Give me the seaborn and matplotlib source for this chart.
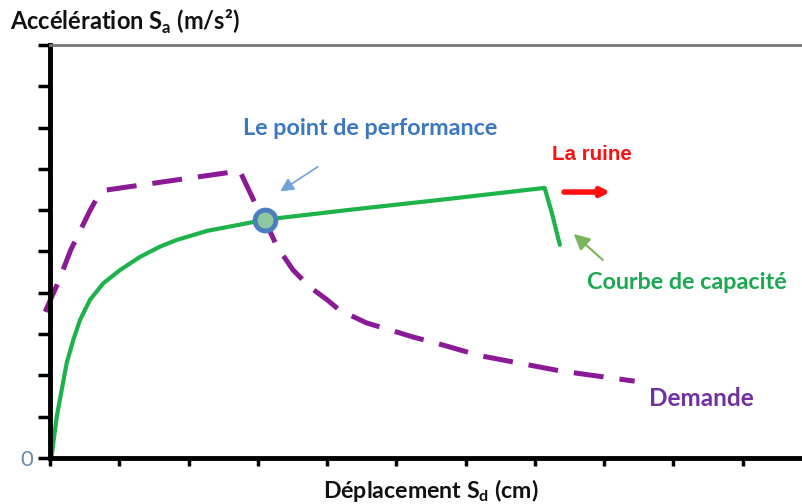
import numpy as np
import pandas as pd
import matplotlib
matplotlib.use("Agg")
import matplotlib.pyplot as plt
import seaborn as sns

# capacity curve (green)
cap_x = [0, 0.025, 0.097, 0.169, 0.241, 0.336, 0.433, 0.577, 0.769, 1.01, 1.30, 1.59,
         1.83, 2.27, 2.74, 3.10, 4.33, 5.63, 7.14, 7.24, 7.36]
cap_y = [0, 0.07, 1.00, 1.65, 2.30, 2.86, 3.34, 3.83, 4.23, 4.55, 4.87, 5.12,
         5.28, 5.50, 5.65, 5.77, 6.01, 6.25, 6.54, 5.96, 5.16]

# demand curve (purple, dashed)
dem_x = [-0.07, 0.12, 0.30, 0.58, 0.69, 0.82, 1.73, 2.74, 2.96, 3.10, 3.28, 3.51,
         3.75, 4.00, 4.18, 4.57, 4.91, 5.24, 5.58, 6.20, 7.36, 8.44]
dem_y = [3.54, 4.26, 5.04, 6.00, 6.33, 6.49, 6.71, 6.95, 6.17, 5.76, 5.11, 4.55,
         4.14, 3.83, 3.58, 3.27, 3.10, 2.93, 2.78, 2.48, 2.11, 1.86]

perf_x, perf_y = 3.10, 5.77

sns.set_style("white")
plt.rcParams['font.family'] = ['Lato', 'DejaVu Sans']
plt.rcParams['mathtext.fontset'] = 'custom'
plt.rcParams['mathtext.rm'] = 'Lato:bold'
plt.rcParams['mathtext.bf'] = 'Lato:bold'

fig = plt.figure(figsize=(8.03, 5.04), dpi=100)
ax = fig.add_axes([50/803, 46/504, 753/803, 413/504])

cap = pd.DataFrame({'x': cap_x, 'y': cap_y})
dem = pd.DataFrame({'x': dem_x, 'y': dem_y})

sns.lineplot(data=dem, x='x', y='y', sort=False, estimator=None, ax=ax,
             color='#8b1a96', linewidth=3.6, linestyle=(0, (6, 3.2)), clip_on=False)
sns.lineplot(data=cap, x='x', y='y', sort=False, estimator=None, ax=ax,
             color='#1db34a', linewidth=3.0)
ax.plot([perf_x], [perf_y], marker='o', markersize=15, markerfacecolor='#8fc7a0',
        markeredgecolor='#4a7ebf', markeredgewidth=3.5, zorder=5)

ax.set_xlim(0, 10.87)
ax.set_ylim(0, 10)
ax.set_xticks(np.arange(0, 11, 1))
ax.set_yticks(np.arange(0, 11, 1))
ax.set_xticklabels([])
ax.set_yticklabels(['0'] + [''] * 10)
ax.tick_params(axis='both', direction='out', width=2.5, length=6, color='black',
               bottom=True, left=True)
ax.tick_params(axis='y', length=9, labelsize=16, labelcolor='#6d8bab', pad=3)
ax.set_xlabel('')
ax.set_ylabel('')

for s in ['left', 'bottom']:
    ax.spines[s].set_linewidth(3.5)
    ax.spines[s].set_color('black')
ax.spines['top'].set_color('#777777')
ax.spines['top'].set_linewidth(2)
ax.spines['right'].set_visible(False)

# annotations
ax.text(4.62, 7.99, 'Le point de performance', color='#3c78c0', fontsize=16.8,
        fontweight='bold', ha='center', va='center')
ax.annotate('', xy=(3.29, 6.42), xytext=(3.90, 7.09),
            arrowprops=dict(arrowstyle='-|>', color='#6fa3d8', lw=1.2,
                            mutation_scale=20))
ax.text(7.82, 7.34, 'La ruine', color='#ff1010', fontsize=14.8, fontweight='bold',
        family='Liberation Sans', ha='center', va='center')
ax.annotate('', xy=(8.13, 6.44), xytext=(7.38, 6.44),
            arrowprops=dict(arrowstyle='-|>', color='#ff1010', lw=4,
                            mutation_scale=12))
ax.text(9.19, 4.26, 'Courbe de capacité', color='#1aa851', fontsize=16.8,
        fontweight='bold', ha='center', va='center')
ax.annotate('', xy=(7.53, 5.47), xytext=(8.01, 4.75),
            arrowprops=dict(arrowstyle='-|>', color='#7ab55c', lw=1.5,
                            mutation_scale=24))
ax.text(9.41, 1.45, 'Demande', color='#7030a0', fontsize=17.5, fontweight='bold',
        ha='center', va='center')

fig.text(10/803, 1 - 22/504, r'Accélération S$_{\mathrm{a}}$ (m/s²)', fontsize=17,
         fontweight='bold', ha='left', va='center', color='#111111')
fig.text(431/803, 1 - 490/504, r'Déplacement S$_{\mathrm{d}}$ (cm)', fontsize=16.7,
         fontweight='bold', ha='center', va='center', color='#111111')

fig.savefig('out.png', dpi=100)
